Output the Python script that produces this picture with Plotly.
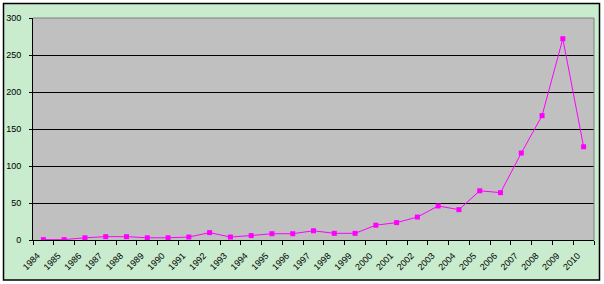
import plotly.graph_objects as go

years = [str(y) for y in range(1984, 2011)]
values = [0.5, 0.5, 3, 4.5, 4.5, 3, 3, 4, 10, 4, 6, 8.5, 8.5, 12.5, 9, 9,
          20, 23.5, 31, 46, 41, 66.5, 64, 117.5, 168, 272, 126]
y_ticks = [0, 50, 100, 150, 200, 250, 300]

fig = go.Figure()
fig.add_trace(go.Scatter(
    x=years, y=values, mode="lines+markers",
    line=dict(color="#FF00FF", width=1),
    marker=dict(symbol="square", size=5, color="#FF00FF"),
    showlegend=False,
))

W, H = 604, 284
L, R, T, B = 33, 10, 18, 44
pw, ph = W - L - R, H - T - B

def px_x(p):
    return (p - L) / pw

def px_y(p):
    return (H - B - p) / ph

fig.add_shape(type="rect", xref="paper", yref="paper",
              x0=px_x(3.5), x1=px_x(599.5), y0=px_y(280), y1=px_y(3.5),
              fillcolor="#C8ECCD", line=dict(color="black", width=1.5),
              layer="below")
fig.add_shape(type="rect", xref="paper", yref="paper",
              x0=0, x1=1, y0=0, y1=1,
              fillcolor="#C0C0C0", line=dict(width=0),
              layer="below")
fig.add_shape(type="line", xref="paper", yref="paper",
              x0=0, x1=1, y0=1, y1=1, line=dict(color="#808080", width=1),
              layer="above")
fig.add_shape(type="line", xref="paper", yref="paper",
              x0=1, x1=1, y0=0, y1=1, line=dict(color="#808080", width=1),
              layer="above")

fig.update_layout(
    width=W, height=H,
    margin=dict(l=L, r=R, t=T, b=B),
    paper_bgcolor="white",
    plot_bgcolor="#C0C0C0",
    font=dict(family="Liberation Sans", size=9, color="black"),
    xaxis=dict(
        type="category", tickangle=-45, showgrid=False, automargin=False,
        showline=True, linecolor="black", linewidth=1,
        ticks="outside", tickson="boundaries", ticklen=4, tickcolor="black",
        range=[-0.5, len(years) - 0.5], ticklabelshift=-6, ticklabelstandoff=6,
    ),
    yaxis=dict(
        range=[0, 300], tickvals=y_ticks, showgrid=True, gridcolor="black",
        gridwidth=1, showline=True, linecolor="black", linewidth=1,
        ticks="outside", ticklen=3, tickcolor="black", zeroline=False,
        ticklabelstandoff=6, automargin=False,
    ),
)

fig.write_html("out.html")
